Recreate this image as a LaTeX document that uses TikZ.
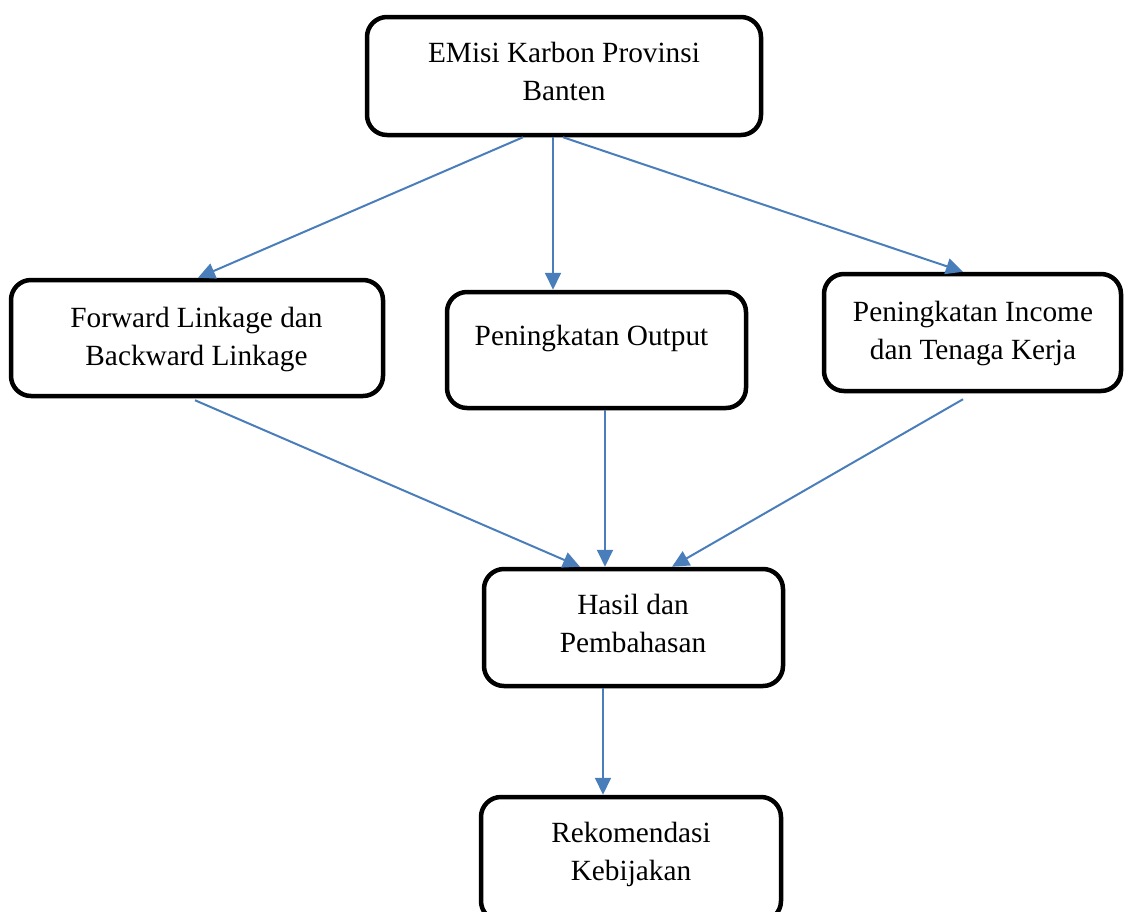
\documentclass[tikz,border=0pt]{standalone}
\usepackage{fontspec}
\setmainfont{Liberation Serif}
\usetikzlibrary{arrows.meta}
\definecolor{arrblue}{RGB}{74,126,187}
\tikzset{
  box/.style={draw=black, line width=4.5pt, rounded corners=20pt, fill=white, inner sep=0pt},
  lbl/.style={align=center, inner sep=0pt, font=\fontsize{29.3}{37.5}\selectfont},
  arr/.style={draw=arrblue, line width=2pt, -{Triangle[length=17pt,width=16pt]}}
}
\begin{document}
\begin{tikzpicture}[x=1pt,y=-1pt]
\useasboundingbox (0,0) rectangle (1125,911);
% boxes
\node[box, minimum width=394pt, minimum height=118pt] (top) at (564,76) {};
\node[box, minimum width=372pt, minimum height=116pt] (fwd) at (197,338) {};
\node[box, minimum width=299pt, minimum height=116pt] (out) at (596.5,350) {};
\node[box, minimum width=297pt, minimum height=117pt] (inc) at (972.5,332.5) {};
\node[box, minimum width=299pt, minimum height=117pt] (has) at (633.5,627.5) {};
\node[box, minimum width=300pt, minimum height=124pt] (rek) at (631,859) {};
% texts (base anchor = baseline of the last line)
\node[lbl, anchor=base] (ttop) at (564,100) {EMisi Karbon Provinsi\\Banten};
\node[lbl, anchor=base] (tfwd) at (196.5,365) {Forward Linkage dan\\Backward Linkage};
\node[lbl, anchor=base] (tout) at (591.5,345) {Peningkatan Output};
\node[lbl, anchor=base] (tinc) at (973,359) {Peningkatan Income\\dan Tenaga Kerja};
\node[lbl, anchor=base] (thas) at (633,652) {Hasil dan\\Pembahasan};
\node[lbl, anchor=base] (trek) at (631,880) {Rekomendasi\\Kebijakan};
% connectors
\draw[arr] ([xshift=-41pt]top.south) -- ([xshift=1pt]fwd.north);
\draw[arr] ([xshift=-11pt]top.south) -- ([xshift=-43.5pt]out.north);
\draw[arr] ([xshift=-1pt]top.south) -- ([xshift=-9.5pt]inc.north);
\draw[arr] ([xshift=-2pt,yshift=-2pt]fwd.south) -- ([xshift=-53.5pt]has.north);
\draw[arr] ([xshift=8.5pt]out.south) -- ([xshift=-28.5pt]has.north);
\draw[arr] ([xshift=-9.5pt,yshift=-6pt]inc.south) -- ([xshift=38.5pt]has.north);
\draw[arr] ([xshift=-30.5pt]has.south) -- ([xshift=-28pt]rek.north);
\end{tikzpicture}
\end{document}
